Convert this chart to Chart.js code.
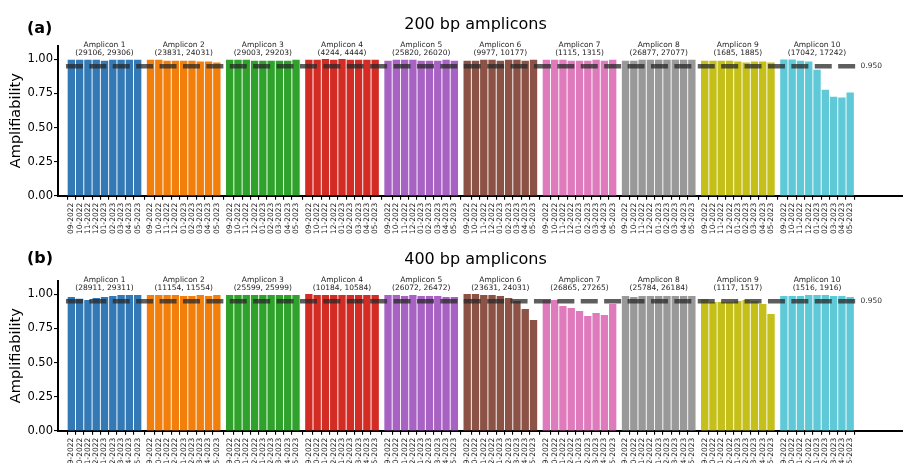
<!DOCTYPE html>
<html>
<head>
<meta charset="utf-8">
<script src="https://cdn.jsdelivr.net/npm/chart.js@4.4.0/dist/chart.umd.min.js"></script>
<style>
  body { margin: 0; background: #fff; }
  #wrap { position: relative; width: 903px; height: 463px; overflow: hidden; }
  canvas { position: absolute; left: 0; top: 0; }
</style>
</head>
<body>
<div id="wrap">
  <canvas id="chartA" width="903" height="463"></canvas>
  <canvas id="chartB" width="903" height="463"></canvas>
</div>
<script>
const months = ['09-2022', '10-2022', '11-2022', '12-2022', '01-2023', '02-2023', '03-2023', '04-2023', '05-2023'];
const ampliconNames = ['Amplicon 1', 'Amplicon 2', 'Amplicon 3', 'Amplicon 4', 'Amplicon 5',
                       'Amplicon 6', 'Amplicon 7', 'Amplicon 8', 'Amplicon 9', 'Amplicon 10'];
const ranges200 = ['(29106, 29306)', '(23831, 24031)', '(29003, 29203)', '(4244, 4444)', '(25820, 26020)',
                   '(9977, 10177)', '(1115, 1315)', '(26877, 27077)', '(1685, 1885)', '(17042, 17242)'];
const ranges400 = ['(28911, 29311)', '(11154, 11554)', '(25599, 25999)', '(10184, 10584)', '(26072, 26472)',
                   '(23631, 24031)', '(26865, 27265)', '(25784, 26184)', '(1117, 1517)', '(1516, 1916)'];

// amplifiability per amplicon, one row per amplicon, one value per month
const values200 = [
  [0.995, 0.995, 0.995, 0.995, 0.988, 0.995, 0.995, 0.995, 0.995],
  [0.995, 0.995, 0.988, 0.988, 0.988, 0.988, 0.981, 0.981, 0.974],
  [0.995, 0.995, 0.995, 0.988, 0.988, 0.988, 0.988, 0.988, 0.995],
  [0.995, 0.995, 1.000, 0.995, 1.000, 0.995, 0.995, 0.995, 0.995],
  [0.988, 0.995, 0.995, 0.995, 0.988, 0.988, 0.988, 0.995, 0.988],
  [0.988, 0.988, 0.995, 0.995, 0.988, 0.995, 0.995, 0.988, 0.995],
  [0.995, 0.995, 0.995, 0.988, 0.988, 0.988, 0.995, 0.988, 0.995],
  [0.988, 0.988, 0.995, 0.995, 0.995, 0.995, 0.995, 0.995, 0.995],
  [0.988, 0.988, 0.988, 0.988, 0.981, 0.974, 0.981, 0.981, 0.974],
  [0.996, 0.996, 0.988, 0.981, 0.922, 0.775, 0.724, 0.717, 0.754]
];
const values400 = [
  [0.978, 0.966, 0.956, 0.971, 0.978, 0.985, 0.993, 0.993, 0.993],
  [0.993, 0.993, 0.993, 0.993, 0.985, 0.985, 0.993, 0.985, 0.993],
  [0.993, 0.993, 0.993, 0.993, 0.993, 0.993, 0.993, 0.993, 0.993],
  [1.000, 0.993, 0.993, 0.993, 0.993, 0.993, 0.993, 0.993, 0.993],
  [0.993, 0.993, 0.985, 0.993, 0.985, 0.985, 0.985, 0.978, 0.978],
  [1.000, 1.000, 0.993, 0.993, 0.985, 0.971, 0.949, 0.890, 0.810],
  [0.956, 0.956, 0.912, 0.898, 0.876, 0.839, 0.861, 0.846, 0.927],
  [0.985, 0.978, 0.985, 0.985, 0.985, 0.985, 0.985, 0.985, 0.985],
  [0.963, 0.941, 0.941, 0.941, 0.949, 0.956, 0.949, 0.927, 0.854],
  [0.985, 0.985, 0.985, 0.993, 0.993, 0.993, 0.985, 0.985, 0.978]
];
const yTicks = [0, 0.25, 0.5, 0.75, 1.0];
const threshold = 0.95;

const colors = ['#3379b5', '#f27f0c', '#2ea22a', '#d22c24', '#a762c4',
                '#8b5245', '#df7bbc', '#999999', '#c4bf19', '#5fc9d7'];

const FONT = '"DejaVu Sans", sans-serif';
const groupPitch = 9.55;   // x units between the first bars of two amplicons

function buildDatasets(values) {
  const sets = values.map((row, g) => ({
    type: 'bar',
    label: ampliconNames[g],
    data: row.map((v, m) => ({ x: g * groupPitch + m, y: v })),
    backgroundColor: colors[g],
    barThickness: 6.7,
    grouped: false,
    order: 1
  }));
  const lastX = (values.length - 1) * groupPitch + months.length - 1;
  sets.push({
    type: 'line',
    label: 'threshold',
    data: [{ x: -0.65, y: threshold }, { x: lastX + 0.65, y: threshold }],
    borderColor: 'rgba(40,40,40,0.75)',
    borderWidth: 4.5,
    borderDash: [17, 6.4],
    pointRadius: 0,
    order: 0
  });
  return sets;
}

const annotate = {
  id: 'annotate',
  afterDraw(chart, args, opts) {
    const { ctx, chartArea, scales } = chart;
    const top = chartArea.top;
    ctx.save();
    ctx.fillStyle = '#000';
    ctx.textBaseline = 'alphabetic';

    ctx.font = '16px ' + FONT;
    ctx.textAlign = 'center';
    ctx.fillText(opts.title, 475.5, top - opts.titleGap);

    ctx.font = 'bold 16px ' + FONT;
    ctx.textAlign = 'left';
    ctx.fillText(opts.panel, 27, top - opts.panelGap);

    ctx.font = '7.5px ' + FONT;
    ctx.textAlign = 'center';
    ctx.fillStyle = '#222';
    ampliconNames.forEach((name, g) => {
      const cx = scales.x.getPixelForValue(g * groupPitch + (months.length - 1) / 2);
      ctx.fillText(name, cx, top + 0.8);
      ctx.fillText(opts.ranges[g], cx, top + 8.8);
    });

    const lastX = (ampliconNames.length - 1) * groupPitch + months.length - 1;
    ctx.textAlign = 'left';
    ctx.textBaseline = 'middle';
    ctx.fillStyle = '#333';
    ctx.fillText(threshold.toFixed(3), scales.x.getPixelForValue(lastX + 0.65) + 5,
                 scales.y.getPixelForValue(threshold));
    ctx.restore();
  }
};

function makeChart(id, values, ranges, title, panel, padTop, xHeight, padBottom, titleGap, panelGap) {
  const tickPositions = [];
  values.forEach((row, g) => row.forEach((v, m) => tickPositions.push(g * groupPitch + m)));
  return new Chart(document.getElementById(id), {
    data: { datasets: buildDatasets(values) },
    options: {
      responsive: false,
      animation: false,
      layout: { padding: { top: padTop, bottom: padBottom, left: 0, right: 0 } },
      plugins: {
        legend: { display: false },
        tooltip: { enabled: false },
        annotate: { title: title, panel: panel, ranges: ranges, titleGap: titleGap, panelGap: panelGap }
      },
      scales: {
        x: {
          type: 'linear',
          offset: false,
          min: -1.61,
          max: 100.32,
          afterFit: s => { s.height = xHeight; },
          afterBuildTicks: s => { s.ticks = tickPositions.map(v => ({ value: v })); },
          ticks: {
            autoSkip: false,
            maxRotation: 90,
            minRotation: 90,
            padding: 3,
            color: '#222',
            font: { family: FONT, size: 7.5 },
            callback: (val, i) => months[i % months.length]
          },
          grid: { drawOnChartArea: false, drawTicks: true, tickLength: 4, color: '#000', lineWidth: 1.1 },
          border: { display: true, color: '#000', width: 2 }
        },
        y: {
          min: 0,
          max: 1.1,
          afterFit: s => { s.width = 58; },
          afterBuildTicks: s => { s.ticks = yTicks.map(v => ({ value: v })); },
          ticks: {
            padding: 1,
            color: '#000',
            font: { family: FONT, size: 11.5 },
            callback: v => v.toFixed(2)
          },
          title: {
            display: true,
            text: 'Amplifiability',
            color: '#000',
            font: { family: FONT, size: 14.5 },
            padding: { top: 8, bottom: 0 }
          },
          grid: { drawOnChartArea: false, drawTicks: true, tickLength: 4, color: '#000', lineWidth: 1.1 },
          border: { display: true, color: '#000', width: 2 }
        }
      }
    },
    plugins: [annotate]
  });
}

makeChart('chartA', values200, ranges200, '200 bp amplicons', '(a)', 45.7, 40, 463 - 195.7 - 40, 16.4, 12.9);
makeChart('chartB', values400, ranges400, '400 bp amplicons', '(b)', 280.7, 32.3, 0, 16.7, 17.9);
</script>
</body>
</html>
